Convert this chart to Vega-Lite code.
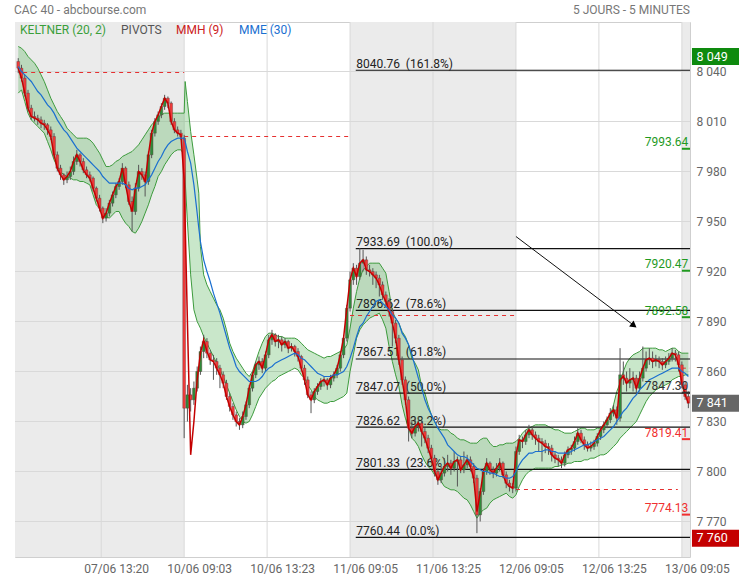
{
"$schema":"https://vega.github.io/schema/vega-lite/v6.json",
"width":675,"height":535,
"autosize":{"type":"none"},
"padding":{"left":15,"top":22,"right":49,"bottom":23},
"background":"white",
"config":{"view":{"stroke":"#cfcfcf"},"text":{"font":"Roboto"},"axis":{"labelFont":"Roboto"}},
"datasets":{
"days":[{"a":-2,"b":102},{"a":204,"b":306},{"a":408,"b":413}],
"gx":[{"g":51},{"g":102},{"g":153},{"g":204},{"g":255},{"g":306},{"g":357},{"g":408}],
"gy":[{"g":7770},{"g":7800},{"g":7830},{"g":7860},{"g":7890},{"g":7920},{"g":7950},{"g":7980},{"g":8010},{"g":8040}],
"prev":[{"a":3,"b":102,"v":8039.4},{"a":102,"b":204,"v":8001},{"a":204,"b":306,"v":7893.6},{"a":306,"b":405.5,"v":7789.2},{"a":408,"b":413,"v":7862}],
"fib":[{"v":8040.76,"t":"8040.76\u00a0\u00a0(161.8%)"},{"v":7933.69,"t":"7933.69\u00a0\u00a0(100.0%)"},{"v":7896.62,"t":"7896.62\u00a0\u00a0(78.6%)"},{"v":7867.51,"t":"7867.51\u00a0\u00a0(61.8%)"},{"v":7847.07,"t":"7847.07\u00a0\u00a0(50.0%)"},{"v":7826.62,"t":"7826.62\u00a0\u00a0(38.2%)"},{"v":7801.33,"t":"7801.33\u00a0\u00a0(23.6%)"},{"v":7760.44,"t":"7760.44\u00a0\u00a0(0.0%)"}],
"piv":[{"v":7993.64,"k":"R"},{"v":7920.47,"k":"R"},{"v":7892.58,"k":"R"},{"v":7847.30,"k":"P"},{"v":7819.41,"k":"S"},{"v":7774.13,"k":"S"}],
"tags":[{"v":8049,"t":"8 049","k":"hi"},{"v":7841,"t":"7 841","k":"last"},{"v":7760,"t":"7 760","k":"lo"}],
"arrow":[{"s1":306,"v1":7941,"s2":378,"v2":7888}],
"band":[
{"s":0,"u":8055,"d":8027,"e":8043},{"s":2,"u":8054,"d":8029,"e":8040},{"s":4,"u":8052,"d":8022,"e":8038},{"s":6,"u":8049,"d":8015,"e":8036},{"s":8,"u":8047,"d":8011,"e":8034},{"s":10,"u":8045,"d":8009,"e":8031},{"s":12,"u":8042,"d":8007,"e":8028},{"s":14,"u":8038,"d":8005,"e":8026},{"s":16,"u":8034,"d":8003,"e":8023},{"s":18,"u":8029,"d":7998,"e":8020},{"s":20,"u":8024,"d":7993,"e":8018},{"s":22,"u":8020,"d":7987,"e":8015},{"s":24,"u":8016,"d":7983,"e":8011},{"s":26,"u":8013,"d":7980,"e":8008},{"s":28,"u":8010,"d":7978,"e":8005},{"s":30,"u":8006,"d":7977,"e":8003},{"s":32,"u":8004,"d":7976,"e":8000},{"s":34,"u":8002,"d":7975,"e":7997},{"s":36,"u":8000,"d":7975,"e":7994},{"s":38,"u":8000,"d":7974,"e":7992},{"s":40,"u":8000,"d":7974,"e":7990},{"s":42,"u":8000,"d":7973,"e":7988},{"s":44,"u":7999,"d":7972,"e":7986},{"s":46,"u":7997,"d":7966,"e":7984},{"s":48,"u":7994,"d":7960,"e":7982},{"s":50,"u":7991,"d":7958,"e":7980},{"s":52,"u":7987,"d":7956,"e":7977},{"s":54,"u":7983,"d":7953,"e":7975},{"s":56,"u":7983,"d":7952,"e":7973},{"s":58,"u":7984,"d":7954,"e":7973},{"s":60,"u":7986,"d":7956,"e":7973},{"s":62,"u":7987,"d":7956,"e":7973},{"s":64,"u":7989,"d":7952,"e":7973},{"s":66,"u":7990,"d":7949,"e":7972},{"s":68,"u":7991,"d":7947,"e":7970},{"s":70,"u":7992,"d":7944,"e":7969},{"s":72,"u":7994,"d":7943,"e":7970},{"s":74,"u":7996,"d":7946,"e":7970},{"s":76,"u":7999,"d":7950,"e":7971},{"s":78,"u":8002,"d":7955,"e":7972},{"s":80,"u":8005,"d":7960,"e":7975},{"s":82,"u":8008,"d":7966,"e":7978},{"s":84,"u":8010,"d":7971,"e":7982},{"s":86,"u":8012,"d":7977,"e":7986},{"s":88,"u":8014,"d":7980,"e":7989},{"s":90,"u":8015,"d":7984,"e":7993},{"s":92,"u":8015,"d":7987,"e":7996},{"s":94,"u":8015,"d":7990,"e":7998},{"s":96,"u":8015,"d":7992,"e":7999},{"s":98,"u":8015,"d":7993,"e":8000},{"s":100,"u":8015,"d":7993,"e":8000},{"s":102,"u":8015,"d":7990,"e":8000},{"s":102.6,"u":8034,"d":7975,"e":7998},{"s":104,"u":8022,"d":7950,"e":7992},{"s":106,"u":8004,"d":7918,"e":7985},{"s":108,"u":7990,"d":7897,"e":7972},{"s":110,"u":7975,"d":7890,"e":7955},{"s":111,"u":7967,"d":7888,"e":7946},{"s":112,"u":7935,"d":7886,"e":7938},{"s":114,"u":7918,"d":7881,"e":7927},{"s":116,"u":7912,"d":7877,"e":7920},{"s":118,"u":7908,"d":7873,"e":7914},{"s":120,"u":7904,"d":7869,"e":7907},{"s":122,"u":7900,"d":7865,"e":7901},{"s":124,"u":7897,"d":7861,"e":7895},{"s":126,"u":7892,"d":7857,"e":7888},{"s":128,"u":7885,"d":7852,"e":7881},{"s":130,"u":7877,"d":7847,"e":7874},{"s":132,"u":7872,"d":7842,"e":7869},{"s":134,"u":7868,"d":7837,"e":7863},{"s":136,"u":7865,"d":7833,"e":7860},{"s":138,"u":7862,"d":7830,"e":7858},{"s":140,"u":7859,"d":7829,"e":7856},{"s":142,"u":7857,"d":7830,"e":7854},{"s":144,"u":7860,"d":7834,"e":7854},{"s":146,"u":7866,"d":7839,"e":7854},{"s":148,"u":7872,"d":7844,"e":7855},{"s":150,"u":7877,"d":7847,"e":7857},{"s":152,"u":7881,"d":7850,"e":7860},{"s":154,"u":7883,"d":7852,"e":7862},{"s":156,"u":7883,"d":7854,"e":7863},{"s":158,"u":7882,"d":7855,"e":7865},{"s":160,"u":7881,"d":7857,"e":7866},{"s":162,"u":7881,"d":7858,"e":7867},{"s":164,"u":7880,"d":7859,"e":7868},{"s":166,"u":7880,"d":7860,"e":7869},{"s":168,"u":7880,"d":7861,"e":7870},{"s":170,"u":7880,"d":7862,"e":7871},{"s":172,"u":7879,"d":7861,"e":7870},{"s":174,"u":7877,"d":7858,"e":7868},{"s":176,"u":7875,"d":7856,"e":7867},{"s":178,"u":7873,"d":7852,"e":7865},{"s":180,"u":7872,"d":7849,"e":7863},{"s":182,"u":7871,"d":7845,"e":7861},{"s":184,"u":7870,"d":7843,"e":7859},{"s":186,"u":7869,"d":7842,"e":7858},{"s":188,"u":7868,"d":7841,"e":7857},{"s":190,"u":7869,"d":7841,"e":7857},{"s":192,"u":7869,"d":7842,"e":7857},{"s":194,"u":7870,"d":7842,"e":7858},{"s":196,"u":7871,"d":7843,"e":7858},{"s":198,"u":7872,"d":7844,"e":7859},{"s":200,"u":7873,"d":7845,"e":7860},{"s":202,"u":7876,"d":7847,"e":7863},{"s":204,"u":7886,"d":7860,"e":7868},{"s":206,"u":7898,"d":7870,"e":7874},{"s":208,"u":7908,"d":7880,"e":7881},{"s":210,"u":7916,"d":7885,"e":7887},{"s":212,"u":7921,"d":7888,"e":7889},{"s":214,"u":7923,"d":7890,"e":7893},{"s":216,"u":7925,"d":7892,"e":7896},{"s":218,"u":7925,"d":7893,"e":7899},{"s":220,"u":7925,"d":7894,"e":7902},{"s":222,"u":7925,"d":7895,"e":7903},{"s":224,"u":7922,"d":7891,"e":7901},{"s":226,"u":7919,"d":7886,"e":7899},{"s":228,"u":7908,"d":7875,"e":7897},{"s":230,"u":7896,"d":7866,"e":7894},{"s":232,"u":7892,"d":7858,"e":7892},{"s":234,"u":7889,"d":7851,"e":7889},{"s":236,"u":7884,"d":7840,"e":7883},{"s":238,"u":7881,"d":7832,"e":7880},{"s":240,"u":7876,"d":7826,"e":7876},{"s":242,"u":7868,"d":7820,"e":7870},{"s":244,"u":7865,"d":7818,"e":7863},{"s":246,"u":7861,"d":7815,"e":7856},{"s":248,"u":7851,"d":7810,"e":7850},{"s":250,"u":7847,"d":7806,"e":7843},{"s":252,"u":7840,"d":7803,"e":7838},{"s":254,"u":7834,"d":7801,"e":7834},{"s":256,"u":7830,"d":7798,"e":7830},{"s":258,"u":7826,"d":7796,"e":7826},{"s":260,"u":7825,"d":7794,"e":7823},{"s":262,"u":7825,"d":7791,"e":7820},{"s":264,"u":7825,"d":7790,"e":7816},{"s":266,"u":7823,"d":7789,"e":7814},{"s":268,"u":7822,"d":7789,"e":7812},{"s":270,"u":7820,"d":7788,"e":7810},{"s":272,"u":7819,"d":7786,"e":7809},{"s":274,"u":7819,"d":7784,"e":7809},{"s":276,"u":7818,"d":7783,"e":7808},{"s":278,"u":7817,"d":7780,"e":7806},{"s":280,"u":7817,"d":7776,"e":7804},{"s":282,"u":7817,"d":7772,"e":7802},{"s":284,"u":7819,"d":7775,"e":7801},{"s":286,"u":7820,"d":7777,"e":7800},{"s":288,"u":7820,"d":7778,"e":7800},{"s":290,"u":7817,"d":7781,"e":7799},{"s":292,"u":7815,"d":7783,"e":7799},{"s":294,"u":7815,"d":7784,"e":7798},{"s":296,"u":7816,"d":7785,"e":7797},{"s":298,"u":7816,"d":7786,"e":7797},{"s":300,"u":7817,"d":7787,"e":7796},{"s":302,"u":7817,"d":7785,"e":7796},{"s":304,"u":7817,"d":7784,"e":7797},{"s":306,"u":7818,"d":7786,"e":7800},{"s":308,"u":7820,"d":7791,"e":7804},{"s":310,"u":7823,"d":7795,"e":7807},{"s":312,"u":7825,"d":7798,"e":7809},{"s":314,"u":7826,"d":7800,"e":7811},{"s":316,"u":7827,"d":7801,"e":7811},{"s":318,"u":7828,"d":7802,"e":7812},{"s":320,"u":7828,"d":7802,"e":7812},{"s":322,"u":7828,"d":7802,"e":7812},{"s":324,"u":7828,"d":7802,"e":7813},{"s":326,"u":7827,"d":7802,"e":7813},{"s":328,"u":7826,"d":7802,"e":7812},{"s":330,"u":7825,"d":7803,"e":7812},{"s":332,"u":7825,"d":7803,"e":7811},{"s":334,"u":7824,"d":7804,"e":7811},{"s":336,"u":7823,"d":7804,"e":7811},{"s":338,"u":7823,"d":7805,"e":7811},{"s":340,"u":7823,"d":7805,"e":7812},{"s":342,"u":7824,"d":7806,"e":7813},{"s":344,"u":7825,"d":7806,"e":7814},{"s":346,"u":7826,"d":7806,"e":7815},{"s":348,"u":7826,"d":7807,"e":7816},{"s":350,"u":7825,"d":7807,"e":7816},{"s":352,"u":7825,"d":7808,"e":7817},{"s":354,"u":7825,"d":7808,"e":7818},{"s":356,"u":7826,"d":7809,"e":7819},{"s":358,"u":7826,"d":7810,"e":7820},{"s":360,"u":7828,"d":7810,"e":7821},{"s":362,"u":7832,"d":7811,"e":7823},{"s":364,"u":7834,"d":7813,"e":7825},{"s":366,"u":7840,"d":7815,"e":7827},{"s":368,"u":7848,"d":7817,"e":7830},{"s":370,"u":7853,"d":7820,"e":7833},{"s":372,"u":7860,"d":7822,"e":7836},{"s":374,"u":7865,"d":7824,"e":7838},{"s":376,"u":7868,"d":7826,"e":7841},{"s":378,"u":7870,"d":7828,"e":7844},{"s":380,"u":7871,"d":7830,"e":7846},{"s":382,"u":7872,"d":7834,"e":7849},{"s":384,"u":7874,"d":7838,"e":7851},{"s":386,"u":7874,"d":7842,"e":7853},{"s":388,"u":7874,"d":7845,"e":7855},{"s":390,"u":7874,"d":7847,"e":7856},{"s":392,"u":7874,"d":7849,"e":7857},{"s":394,"u":7873,"d":7850,"e":7858},{"s":396,"u":7873,"d":7851,"e":7859},{"s":398,"u":7872,"d":7852,"e":7860},{"s":400,"u":7873,"d":7853,"e":7861},{"s":402,"u":7874,"d":7855,"e":7862},{"s":404,"u":7874,"d":7856,"e":7862},{"s":406,"u":7872,"d":7857,"e":7862},{"s":408,"u":7871,"d":7857,"e":7860},{"s":410,"u":7871,"d":7858,"e":7859},{"s":412,"u":7871,"d":7858,"e":7857}],
"k":[
{"s":0,"o":8046,"h":8048,"l":8039,"c":8042,"m":8042},{"s":2,"o":8042,"h":8044,"l":8034,"c":8036,"m":8036},{"s":4,"o":8036,"h":8038,"l":8025,"c":8027,"m":8027},{"s":6,"o":8027,"h":8029,"l":8016,"c":8018,"m":8018},{"s":8,"o":8018,"h":8020,"l":8011,"c":8013,"m":8013},{"s":10,"o":8013,"h":8016,"l":8010,"c":8012,"m":8012},{"s":12,"o":8012,"h":8014,"l":8008,"c":8011,"m":8011},{"s":14,"o":8011,"h":8013,"l":8006,"c":8009,"m":8009},{"s":16,"o":8009,"h":8011,"l":8005,"c":8008,"m":8008},{"s":18,"o":8008,"h":8009,"l":8002,"c":8005,"m":8005},{"s":20,"o":8005,"h":8007,"l":7999,"c":8001,"m":8001},{"s":22,"o":8001,"h":8003,"l":7988,"c":7990,"m":7990},{"s":24,"o":7990,"h":7992,"l":7980,"c":7982,"m":7982},{"s":26,"o":7982,"h":7984,"l":7975,"c":7978,"m":7978},{"s":28,"o":7978,"h":7979,"l":7972,"c":7975,"m":7975},{"s":30,"o":7975,"h":7980,"l":7973,"c":7977,"m":7977},{"s":32,"o":7977,"h":7983,"l":7975,"c":7980,"m":7980},{"s":34,"o":7980,"h":7989,"l":7978,"c":7986,"m":7986},{"s":36,"o":7986,"h":7993,"l":7984,"c":7990,"m":7990},{"s":38,"o":7990,"h":7991,"l":7983,"c":7986,"m":7986},{"s":40,"o":7986,"h":7988,"l":7979,"c":7981,"m":7981},{"s":42,"o":7981,"h":7983,"l":7976,"c":7978,"m":7978},{"s":44,"o":7978,"h":7980,"l":7974,"c":7976,"m":7976},{"s":46,"o":7976,"h":7977,"l":7968,"c":7970,"m":7970},{"s":48,"o":7970,"h":7971,"l":7962,"c":7964,"m":7964},{"s":50,"o":7964,"h":7966,"l":7956,"c":7958,"m":7958},{"s":52,"o":7958,"h":7959,"l":7949,"c":7952,"m":7952},{"s":54,"o":7952,"h":7958,"l":7950,"c":7955,"m":7955},{"s":56,"o":7955,"h":7963,"l":7953,"c":7961,"m":7961},{"s":58,"o":7961,"h":7968,"l":7959,"c":7966,"m":7966},{"s":60,"o":7966,"h":7973,"l":7964,"c":7971,"m":7971},{"s":62,"o":7971,"h":7976,"l":7969,"c":7974,"m":7974},{"s":64,"o":7974,"h":7985,"l":7972,"c":7982,"m":7982},{"s":66,"o":7982,"h":7983,"l":7970,"c":7972,"m":7972},{"s":68,"o":7972,"h":7974,"l":7960,"c":7962,"m":7962},{"s":70,"o":7962,"h":7965,"l":7944,"c":7956,"m":7956},{"s":72,"o":7956,"h":7973,"l":7954,"c":7970,"m":7970},{"s":74,"o":7970,"h":7984,"l":7968,"c":7980,"m":7980},{"s":76,"o":7980,"h":7982,"l":7975,"c":7978,"m":7978},{"s":78,"o":7978,"h":7980,"l":7965,"c":7974,"m":7974},{"s":80,"o":7974,"h":7992,"l":7972,"c":7990,"m":7990},{"s":82,"o":7990,"h":8005,"l":7988,"c":8003,"m":8003},{"s":84,"o":8003,"h":8012,"l":8001,"c":8010,"m":8010},{"s":86,"o":8010,"h":8016,"l":8008,"c":8014,"m":8014},{"s":88,"o":8014,"h":8021,"l":8012,"c":8019,"m":8019},{"s":90,"o":8019,"h":8026,"l":8017,"c":8024,"m":8024},{"s":92,"o":8024,"h":8025,"l":8018,"c":8021,"m":8021},{"s":94,"o":8021,"h":8022,"l":8008,"c":8010,"m":8010},{"s":96,"o":8010,"h":8012,"l":8003,"c":8005,"m":8005},{"s":98,"o":8005,"h":8007,"l":8001,"c":8003,"m":8003},{"s":100,"o":8003,"h":8005,"l":7999,"c":8001,"m":8002},
{"s":102,"o":8000,"h":8002,"l":7820,"c":7838,"m":7975},{"s":104,"o":7838,"h":7852,"l":7830,"c":7846,"m":7890},{"s":106,"o":7846,"h":7850,"l":7836,"c":7843,"m":7810},{"s":108,"o":7843,"h":7854,"l":7840,"c":7850,"m":7830},{"s":110,"o":7850,"h":7863,"l":7848,"c":7860,"m":7855},{"s":112,"o":7860,"h":7875,"l":7858,"c":7872,"m":7871},{"s":114,"o":7872,"h":7882,"l":7868,"c":7878,"m":7879},{"s":116,"o":7878,"h":7880,"l":7868,"c":7871,"m":7872},{"s":118,"o":7871,"h":7873,"l":7864,"c":7867,"m":7867},{"s":120,"o":7867,"h":7870,"l":7855,"c":7866,"m":7866},{"s":122,"o":7866,"h":7868,"l":7858,"c":7862,"m":7862},{"s":124,"o":7862,"h":7864,"l":7850,"c":7858,"m":7858},{"s":126,"o":7858,"h":7860,"l":7850,"c":7853,"m":7853},{"s":128,"o":7853,"h":7855,"l":7843,"c":7845,"m":7845},{"s":130,"o":7845,"h":7847,"l":7836,"c":7839,"m":7839},{"s":132,"o":7839,"h":7841,"l":7831,"c":7834,"m":7834},{"s":134,"o":7834,"h":7836,"l":7827,"c":7830,"m":7830},{"s":136,"o":7830,"h":7832,"l":7825,"c":7828,"m":7828},{"s":138,"o":7828,"h":7836,"l":7826,"c":7833,"m":7833},{"s":140,"o":7833,"h":7842,"l":7831,"c":7840,"m":7840},{"s":142,"o":7840,"h":7852,"l":7838,"c":7850,"m":7850},{"s":144,"o":7850,"h":7860,"l":7848,"c":7858,"m":7858},{"s":146,"o":7858,"h":7866,"l":7856,"c":7864,"m":7864},{"s":148,"o":7864,"h":7869,"l":7861,"c":7866,"m":7866},{"s":150,"o":7866,"h":7868,"l":7859,"c":7862,"m":7862},{"s":152,"o":7862,"h":7872,"l":7860,"c":7870,"m":7870},{"s":154,"o":7870,"h":7882,"l":7868,"c":7879,"m":7879},{"s":156,"o":7879,"h":7885,"l":7876,"c":7882,"m":7882},{"s":158,"o":7882,"h":7883,"l":7875,"c":7878,"m":7878},{"s":160,"o":7878,"h":7882,"l":7874,"c":7879,"m":7879},{"s":162,"o":7879,"h":7881,"l":7872,"c":7876,"m":7876},{"s":164,"o":7876,"h":7880,"l":7874,"c":7878,"m":7878},{"s":166,"o":7878,"h":7879,"l":7871,"c":7874,"m":7874},{"s":168,"o":7874,"h":7877,"l":7872,"c":7875,"m":7875},{"s":170,"o":7875,"h":7876,"l":7869,"c":7872,"m":7872},{"s":172,"o":7872,"h":7874,"l":7866,"c":7869,"m":7869},{"s":174,"o":7869,"h":7870,"l":7860,"c":7862,"m":7862},{"s":176,"o":7862,"h":7864,"l":7852,"c":7855,"m":7855},{"s":178,"o":7855,"h":7857,"l":7844,"c":7846,"m":7846},{"s":180,"o":7846,"h":7848,"l":7835,"c":7843,"m":7843},{"s":182,"o":7843,"h":7850,"l":7841,"c":7848,"m":7848},{"s":184,"o":7848,"h":7853,"l":7846,"c":7851,"m":7851},{"s":186,"o":7851,"h":7856,"l":7849,"c":7854,"m":7854},{"s":188,"o":7854,"h":7857,"l":7851,"c":7855,"m":7855},{"s":190,"o":7855,"h":7856,"l":7849,"c":7852,"m":7852},{"s":192,"o":7852,"h":7858,"l":7850,"c":7856,"m":7856},{"s":194,"o":7856,"h":7860,"l":7854,"c":7858,"m":7858},{"s":196,"o":7858,"h":7864,"l":7856,"c":7862,"m":7862},{"s":198,"o":7862,"h":7872,"l":7860,"c":7870,"m":7870},{"s":200,"o":7870,"h":7882,"l":7868,"c":7880,"m":7880},{"s":202,"o":7880,"h":7900,"l":7878,"c":7898,"m":7898},
{"s":204,"o":7898,"h":7920,"l":7896,"c":7915,"m":7915},{"s":206,"o":7915,"h":7925,"l":7912,"c":7922,"m":7922},{"s":208,"o":7922,"h":7924,"l":7912,"c":7917,"m":7917},{"s":210,"o":7917,"h":7934,"l":7915,"c":7925,"m":7925},{"s":212,"o":7925,"h":7933,"l":7920,"c":7927,"m":7927},{"s":214,"o":7927,"h":7929,"l":7918,"c":7921,"m":7921},{"s":216,"o":7921,"h":7924,"l":7917,"c":7920,"m":7920},{"s":218,"o":7920,"h":7922,"l":7912,"c":7918,"m":7918},{"s":220,"o":7918,"h":7920,"l":7910,"c":7916,"m":7916},{"s":222,"o":7916,"h":7918,"l":7905,"c":7912,"m":7912},{"s":224,"o":7912,"h":7914,"l":7903,"c":7906,"m":7906},{"s":226,"o":7906,"h":7908,"l":7899,"c":7902,"m":7902},{"s":228,"o":7902,"h":7904,"l":7893,"c":7896,"m":7896},{"s":230,"o":7896,"h":7898,"l":7875,"c":7889,"m":7889},{"s":232,"o":7889,"h":7891,"l":7877,"c":7880,"m":7880},{"s":234,"o":7880,"h":7882,"l":7864,"c":7867,"m":7867},{"s":236,"o":7867,"h":7869,"l":7852,"c":7855,"m":7855},{"s":238,"o":7855,"h":7857,"l":7840,"c":7843,"m":7843},{"s":240,"o":7843,"h":7845,"l":7818,"c":7826,"m":7826},{"s":242,"o":7826,"h":7831,"l":7820,"c":7823,"m":7823},{"s":244,"o":7823,"h":7832,"l":7821,"c":7827,"m":7827},{"s":246,"o":7827,"h":7833,"l":7824,"c":7829,"m":7829},{"s":248,"o":7829,"h":7831,"l":7815,"c":7824,"m":7824},{"s":250,"o":7824,"h":7826,"l":7817,"c":7820,"m":7820},{"s":252,"o":7820,"h":7822,"l":7811,"c":7814,"m":7814},{"s":254,"o":7814,"h":7816,"l":7805,"c":7808,"m":7808},{"s":256,"o":7808,"h":7810,"l":7797,"c":7800,"m":7800},{"s":258,"o":7800,"h":7802,"l":7792,"c":7795,"m":7795},{"s":260,"o":7795,"h":7803,"l":7793,"c":7799,"m":7799},{"s":262,"o":7799,"h":7808,"l":7797,"c":7803,"m":7803},{"s":264,"o":7803,"h":7810,"l":7800,"c":7805,"m":7805},{"s":266,"o":7805,"h":7807,"l":7798,"c":7802,"m":7802},{"s":268,"o":7802,"h":7812,"l":7800,"c":7806,"m":7806},{"s":270,"o":7806,"h":7809,"l":7791,"c":7807,"m":7807},{"s":272,"o":7807,"h":7809,"l":7799,"c":7801,"m":7801},{"s":274,"o":7801,"h":7812,"l":7799,"c":7804,"m":7804},{"s":276,"o":7804,"h":7810,"l":7802,"c":7807,"m":7807},{"s":278,"o":7807,"h":7809,"l":7800,"c":7803,"m":7803},{"s":280,"o":7803,"h":7805,"l":7793,"c":7796,"m":7796},{"s":282,"o":7796,"h":7798,"l":7763,"c":7774,"m":7776},{"s":284,"o":7774,"h":7790,"l":7770,"c":7788,"m":7787},{"s":286,"o":7788,"h":7802,"l":7786,"c":7800,"m":7800},{"s":288,"o":7800,"h":7808,"l":7798,"c":7805,"m":7805},{"s":290,"o":7805,"h":7806,"l":7798,"c":7801,"m":7801},{"s":292,"o":7801,"h":7803,"l":7796,"c":7799,"m":7799},{"s":294,"o":7799,"h":7805,"l":7797,"c":7802,"m":7802},{"s":296,"o":7802,"h":7808,"l":7800,"c":7805,"m":7805},{"s":298,"o":7805,"h":7806,"l":7796,"c":7798,"m":7798},{"s":300,"o":7798,"h":7800,"l":7790,"c":7793,"m":7793},{"s":302,"o":7793,"h":7795,"l":7788,"c":7791,"m":7791},{"s":304,"o":7791,"h":7793,"l":7787,"c":7790,"m":7790},
{"s":306,"o":7790,"h":7815,"l":7788,"c":7812,"m":7810},{"s":308,"o":7812,"h":7822,"l":7810,"c":7819,"m":7819},{"s":310,"o":7819,"h":7821,"l":7814,"c":7818,"m":7818},{"s":312,"o":7818,"h":7825,"l":7816,"c":7822,"m":7822},{"s":314,"o":7822,"h":7828,"l":7820,"c":7825,"m":7825},{"s":316,"o":7825,"h":7827,"l":7819,"c":7822,"m":7822},{"s":318,"o":7822,"h":7824,"l":7816,"c":7820,"m":7820},{"s":320,"o":7820,"h":7822,"l":7812,"c":7818,"m":7818},{"s":322,"o":7818,"h":7820,"l":7806,"c":7817,"m":7817},{"s":324,"o":7817,"h":7819,"l":7811,"c":7815,"m":7815},{"s":326,"o":7815,"h":7817,"l":7810,"c":7814,"m":7814},{"s":328,"o":7814,"h":7816,"l":7806,"c":7810,"m":7810},{"s":330,"o":7810,"h":7812,"l":7805,"c":7808,"m":7808},{"s":332,"o":7808,"h":7810,"l":7803,"c":7807,"m":7807},{"s":334,"o":7807,"h":7809,"l":7802,"c":7805,"m":7805},{"s":336,"o":7805,"h":7812,"l":7803,"c":7810,"m":7810},{"s":338,"o":7810,"h":7815,"l":7808,"c":7813,"m":7813},{"s":340,"o":7813,"h":7816,"l":7810,"c":7814,"m":7814},{"s":342,"o":7814,"h":7821,"l":7812,"c":7818,"m":7818},{"s":344,"o":7818,"h":7826,"l":7816,"c":7823,"m":7823},{"s":346,"o":7823,"h":7825,"l":7817,"c":7819,"m":7819},{"s":348,"o":7819,"h":7821,"l":7813,"c":7816,"m":7816},{"s":350,"o":7816,"h":7818,"l":7812,"c":7814,"m":7814},{"s":352,"o":7814,"h":7818,"l":7812,"c":7815,"m":7815},{"s":354,"o":7815,"h":7819,"l":7813,"c":7817,"m":7817},{"s":356,"o":7817,"h":7823,"l":7815,"c":7821,"m":7821},{"s":358,"o":7821,"h":7827,"l":7819,"c":7825,"m":7825},{"s":360,"o":7825,"h":7830,"l":7823,"c":7828,"m":7828},{"s":362,"o":7828,"h":7833,"l":7826,"c":7831,"m":7831},{"s":364,"o":7831,"h":7838,"l":7829,"c":7835,"m":7835},{"s":366,"o":7835,"h":7840,"l":7833,"c":7837,"m":7837},{"s":368,"o":7837,"h":7839,"l":7828,"c":7832,"m":7832},{"s":370,"o":7832,"h":7874,"l":7830,"c":7858,"m":7855},{"s":372,"o":7858,"h":7866,"l":7852,"c":7856,"m":7857},{"s":374,"o":7856,"h":7860,"l":7848,"c":7853,"m":7853},{"s":376,"o":7853,"h":7862,"l":7850,"c":7855,"m":7855},{"s":378,"o":7855,"h":7860,"l":7848,"c":7856,"m":7856},{"s":380,"o":7856,"h":7858,"l":7846,"c":7850,"m":7850},{"s":382,"o":7850,"h":7860,"l":7848,"c":7856,"m":7856},{"s":384,"o":7856,"h":7875,"l":7854,"c":7862,"m":7862},{"s":386,"o":7862,"h":7872,"l":7860,"c":7867,"m":7867},{"s":388,"o":7867,"h":7874,"l":7864,"c":7868,"m":7868},{"s":390,"o":7868,"h":7872,"l":7862,"c":7866,"m":7866},{"s":392,"o":7866,"h":7870,"l":7863,"c":7867,"m":7867},{"s":394,"o":7867,"h":7869,"l":7862,"c":7866,"m":7866},{"s":396,"o":7866,"h":7868,"l":7861,"c":7864,"m":7864},{"s":398,"o":7864,"h":7869,"l":7862,"c":7866,"m":7866},{"s":400,"o":7866,"h":7871,"l":7864,"c":7868,"m":7868},{"s":402,"o":7868,"h":7874,"l":7866,"c":7871,"m":7871},{"s":404,"o":7871,"h":7873,"l":7866,"c":7870,"m":7870},{"s":406,"o":7870,"h":7872,"l":7860,"c":7864,"m":7864},
{"s":408,"o":7864,"h":7866,"l":7850,"c":7852,"m":7853},{"s":410,"o":7852,"h":7854,"l":7843,"c":7845,"m":7846},{"s":412,"o":7845,"h":7848,"l":7838,"c":7841,"m":7841}]
},
"layer":[
{"data":{"name":"days"},"mark":{"type":"rect","color":"#ebebeb"},
 "encoding":{
  "x":{"field":"a","type":"quantitative","scale":{"domain":[-2,413],"nice":false,"zero":false,"padding":0},
   "axis":{"title":null,"values":[51,102,153,204,255,306,357,408],"labelExpr":"['07/06 13:20','10/06 09:03','10/06 13:23','11/06 09:05','11/06 13:25','12/06 09:05','12/06 13:25','13/06 09:05'][round(datum.value/51)-1]","grid":false,"ticks":false,"domain":false,"labelColor":"#666666","labelFontSize":12,"labelPadding":6,"labelOffset":15,"labelFlush":false,"labelOverlap":false}},
  "x2":{"field":"b"},
  "y":{"datum":7748.7,"type":"quantitative","scale":{"domain":[7748.7,8069.7],"nice":false,"zero":false,"padding":0},
   "axis":{"orient":"right","title":null,"values":[7770,7800,7830,7860,7890,7920,7950,7980,8010,8040],"labelExpr":"replace(format(datum.value,','),',',' ')","grid":false,"ticks":false,"domain":false,"labelColor":"#666666","labelFontSize":12,"labelPadding":6,"labelFlush":false,"labelOverlap":false}},
  "y2":{"datum":8069.7}}},
{"data":{"name":"gx"},"mark":{"type":"rule","color":"#d9d9d9","strokeWidth":1},"encoding":{"x":{"field":"g","type":"quantitative"}}},
{"data":{"name":"gy"},"mark":{"type":"rule","color":"#d9d9d9","strokeWidth":1},"encoding":{"y":{"field":"g","type":"quantitative"}}},
{"data":{"name":"band"},"mark":{"type":"area","color":"#4caf50","opacity":0.3},"encoding":{"x":{"field":"s","type":"quantitative"},"y":{"field":"u","type":"quantitative"},"y2":{"field":"d"}}},
{"data":{"name":"band"},"mark":{"type":"line","color":"#3d9b3d","strokeWidth":1},"encoding":{"x":{"field":"s","type":"quantitative"},"y":{"field":"u","type":"quantitative"}}},
{"data":{"name":"band"},"mark":{"type":"line","color":"#3d9b3d","strokeWidth":1},"encoding":{"x":{"field":"s","type":"quantitative"},"y":{"field":"d","type":"quantitative"}}},
{"data":{"name":"prev"},"mark":{"type":"rule","color":"#e53030","strokeWidth":1,"strokeDash":[4,4]},"encoding":{"x":{"field":"a","type":"quantitative"},"x2":{"field":"b"},"y":{"field":"v","type":"quantitative"}}},
{"data":{"name":"fib"},"mark":{"type":"rule","color":"#111111","strokeWidth":1.2},"encoding":{"x":{"datum":207.5,"type":"quantitative"},"x2":{"datum":413},"y":{"field":"v","type":"quantitative"}}},
{"data":{"name":"fib"},"mark":{"type":"text","align":"left","baseline":"alphabetic","dy":-2.5,"fontSize":12,"color":"#222222"},"encoding":{"x":{"datum":207.8,"type":"quantitative"},"y":{"field":"v","type":"quantitative"},"text":{"field":"t"}}},
{"data":{"name":"k"},"mark":{"type":"rule","color":"#555555","strokeWidth":1},"encoding":{"x":{"field":"s","type":"quantitative"},"y":{"field":"l","type":"quantitative"},"y2":{"field":"h"}}},
{"data":{"name":"k"},"mark":{"type":"bar","width":2.8,"stroke":"#5a3a3a","strokeWidth":0.4},"encoding":{"x":{"field":"s","type":"quantitative"},"y":{"field":"o","type":"quantitative"},"y2":{"field":"c"},"color":{"condition":{"test":"datum.c >= datum.o","value":"#2e8b3a"},"value":"#f03a3a"}}},
{"data":{"name":"k"},"mark":{"type":"line","color":"#c40000","strokeWidth":1.5},"encoding":{"x":{"field":"s","type":"quantitative"},"y":{"field":"m","type":"quantitative"}}},
{"data":{"name":"band"},"mark":{"type":"line","color":"#1a6fd0","strokeWidth":1.2},"encoding":{"x":{"field":"s","type":"quantitative"},"y":{"field":"e","type":"quantitative"}}},
{"data":{"name":"piv"},"mark":{"type":"rule","strokeWidth":2},"encoding":{"x":{"datum":408,"type":"quantitative"},"x2":{"datum":413},"y":{"field":"v","type":"quantitative"},"color":{"field":"k","type":"nominal","scale":{"domain":["R","P","S","hi","last","lo"],"range":["#1f9a1f","#333333","#f03030","#0e8a0e","#666666","#c40000"]},"legend":null}}},
{"data":{"name":"piv"},"mark":{"type":"text","align":"right","baseline":"alphabetic","dy":-2.5,"fontSize":12},"encoding":{"x":{"datum":412,"type":"quantitative"},"y":{"field":"v","type":"quantitative"},"text":{"field":"v","format":".2f"},"color":{"field":"k","type":"nominal","scale":{"domain":["R","P","S","hi","last","lo"],"range":["#1f9a1f","#333333","#f03030","#0e8a0e","#666666","#c40000"]},"legend":null}}},
{"data":{"name":"arrow"},"mark":{"type":"rule","color":"#111111","strokeWidth":1},"encoding":{"x":{"field":"s1","type":"quantitative"},"y":{"field":"v1","type":"quantitative"},"x2":{"field":"s2"},"y2":{"field":"v2"}}},
{"data":{"name":"arrow"},"mark":{"type":"point","shape":"triangle","filled":true,"size":55,"angle":127,"color":"#000000","opacity":1},"encoding":{"x":{"field":"s2","type":"quantitative"},"y":{"field":"v2","type":"quantitative"}}},
{"data":{"name":"tags"},"mark":{"type":"bar","orient":"horizontal","height":17},"encoding":{"x":{"datum":414.2,"type":"quantitative"},"x2":{"datum":443.5},"y":{"field":"v","type":"quantitative"},"color":{"field":"k","type":"nominal","scale":{"domain":["R","P","S","hi","last","lo"],"range":["#1f9a1f","#333333","#f03030","#0e8a0e","#666666","#c40000"]},"legend":null}}},
{"data":{"name":"tags"},"mark":{"type":"text","align":"left","baseline":"middle","fontSize":12.5,"color":"white"},"encoding":{"x":{"datum":417,"type":"quantitative"},"y":{"field":"v","type":"quantitative"},"text":{"field":"t"}}},
{"data":{"values":[{}]},"mark":{"type":"text","text":"KELTNER (20, 2)","align":"left","baseline":"middle","fontSize":12,"color":"#3a9f3a"},"encoding":{"x":{"datum":1.1,"type":"quantitative"},"y":{"datum":8065.2,"type":"quantitative"}}},
{"data":{"values":[{}]},"mark":{"type":"text","text":"PIVOTS","align":"left","baseline":"middle","fontSize":12,"color":"#555555"},"encoding":{"x":{"datum":63.2,"type":"quantitative"},"y":{"datum":8065.2,"type":"quantitative"}}},
{"data":{"values":[{}]},"mark":{"type":"text","text":"MMH (9)","align":"left","baseline":"middle","fontSize":12,"color":"#cc2222"},"encoding":{"x":{"datum":97,"type":"quantitative"},"y":{"datum":8065.2,"type":"quantitative"}}},
{"data":{"values":[{}]},"mark":{"type":"text","text":"MME (30)","align":"left","baseline":"middle","fontSize":12,"color":"#1a6fd0"},"encoding":{"x":{"datum":135.7,"type":"quantitative"},"y":{"datum":8065.2,"type":"quantitative"}}},
{"data":{"values":[{}]},"mark":{"type":"text","text":"CAC 40 - abcbourse.com","align":"left","baseline":"middle","fontSize":12,"color":"#777777"},"encoding":{"x":{"datum":-2.6,"type":"quantitative"},"y":{"datum":8077.2,"type":"quantitative"}}},
{"data":{"values":[{}]},"mark":{"type":"text","text":"5 JOURS - 5 MINUTES","align":"right","baseline":"middle","fontSize":12,"color":"#777777"},"encoding":{"x":{"datum":413,"type":"quantitative"},"y":{"datum":8077.2,"type":"quantitative"}}}
]
}
